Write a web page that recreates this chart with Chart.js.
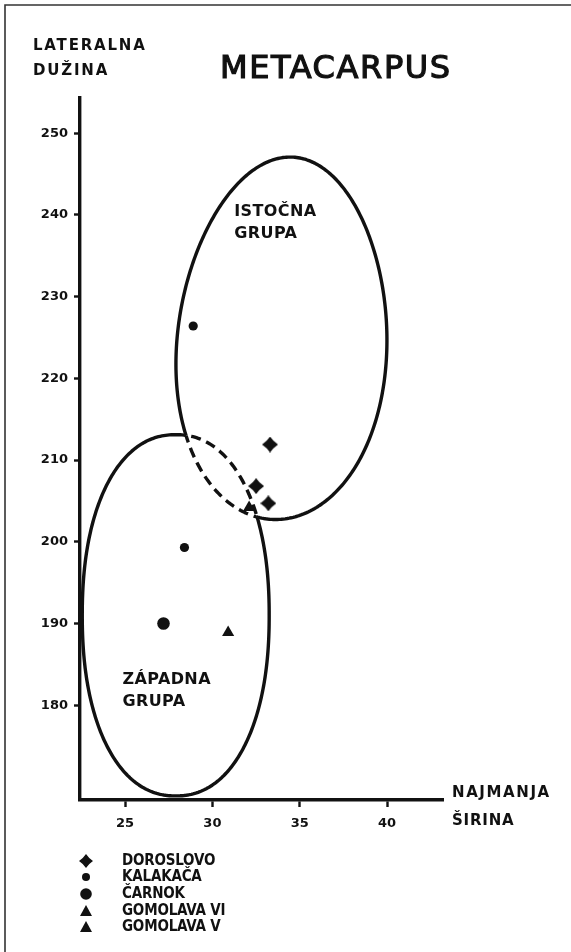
<!DOCTYPE html>
<html lang="sr">
  <head>
    <meta charset="UTF-8" />
    <title>Metacarpus</title>
    <script src="https://cdn.jsdelivr.net/npm/chart.js"></script>
    <style>
      body {
        margin: 0;
        background: #fff;
      }
      #wrap {
        width: 571px;
        height: 952px;
      }
    </style>
  </head>
  <body>
    <div id="wrap"><canvas id="plot" width="571" height="952"></canvas></div>

    <script>
      // najmanja širina (x) / lateralna dužina (y), mm
      const siteNames = ["DOROSLOVO", "KALAKAČA", "ČARNOK", "GOMOLAVA VI", "GOMOLAVA V"];
      const doroslovoX = [33.3, 32.5, 33.2];
      const doroslovoY = [211.9, 206.8, 204.7];
      const kalakacaX = [28.9, 28.4];
      const kalakacaY = [226.4, 199.3];
      const carnokX = [27.2];
      const carnokY = [190.0];
      const gomolava6X = [32.1];
      const gomolava6Y = [204.2];
      const gomolava5X = [30.9];
      const gomolava5Y = [188.9];

      const xTicks = [25, 30, 35, 40];
      const yTicks = [180, 190, 200, 210, 220, 230, 240, 250];

      // group outlines (east, west): centre and half axes in mm
      const groupNames = [["ISTOČNA", "GRUPA"], ["ZÁPADNA", "GRUPA"]];
      const groupCentreX = [34.0, 27.9];
      const groupCentreY = [224.9, 191.0];
      const groupHalfX = [6.0, 5.35];
      const groupHalfY = [22.2, 22.1];
      // shape of each hand-drawn outline: tilt (rad), squareness, widening towards the bottom
      const groupTilt = [0.06, 0];
      const groupSquare = [2.0, 2.2];
      const groupEgg = [0.08, 0.0];

      const INK = "#111";
      const LETTERS = '"DejaVu Sans", sans-serif';
      const NARROW = '"DejaVu Sans Condensed", "DejaVu Sans", sans-serif';

      const pts = (xs, ys) => xs.map((x, i) => ({ x: x, y: ys[i] }));

      // four-pointed star used for Doroslovo
      function starMarker(size) {
        const c = document.createElement("canvas");
        c.width = c.height = size;
        const g = c.getContext("2d");
        const m = size / 2;
        const k = size * 0.2;
        g.fillStyle = INK;
        g.beginPath();
        g.moveTo(m, 0);
        g.quadraticCurveTo(m + k, m - k, size, m);
        g.quadraticCurveTo(m + k, m + k, m, size);
        g.quadraticCurveTo(m - k, m + k, 0, m);
        g.quadraticCurveTo(m - k, m - k, m, 0);
        g.fill();
        return c;
      }
      const star = starMarker(16);
      const starSmall = starMarker(14);

      function traceOutline(ctx, chart, i) {
        const xs = chart.scales.x;
        const ys = chart.scales.y;
        const cx = xs.getPixelForValue(groupCentreX[i]);
        const cy = ys.getPixelForValue(groupCentreY[i]);
        const rx = xs.getPixelForValue(groupCentreX[i] + groupHalfX[i]) - cx;
        const ry = cy - ys.getPixelForValue(groupCentreY[i] + groupHalfY[i]);
        const tc = Math.cos(groupTilt[i]);
        const ts = Math.sin(groupTilt[i]);
        const p = 2 / groupSquare[i];
        const steps = 360;
        for (let s = 0; s <= steps; s++) {
          const a = (s / steps) * Math.PI * 2;
          const c = Math.cos(a);
          const sn = Math.sin(a);
          const v = Math.sign(sn) * Math.pow(Math.abs(sn), p);
          const u = Math.sign(c) * Math.pow(Math.abs(c), p) * (1 + groupEgg[i] * v);
          const dx = u * rx;
          const dy = v * ry;
          const X = cx + dx * tc - dy * ts;
          const Y = cy + dx * ts + dy * tc;
          if (s === 0) ctx.moveTo(X, Y);
          else ctx.lineTo(X, Y);
        }
        ctx.closePath();
      }

      // solid outlines, dashed where one group overlaps the other
      const groupOutlines = {
        id: "groupOutlines",
        beforeDatasetsDraw(chart) {
          const ctx = chart.ctx;
          ctx.save();
          ctx.strokeStyle = INK;
          ctx.lineWidth = 3.4;
          ctx.lineJoin = "round";
          for (let i = 0; i < 2; i++) {
            const other = 1 - i;
            ctx.save();
            ctx.beginPath();
            ctx.rect(0, 0, chart.width, chart.height);
            traceOutline(ctx, chart, other);
            ctx.clip("evenodd");
            ctx.beginPath();
            traceOutline(ctx, chart, i);
            ctx.stroke();
            ctx.restore();

            ctx.save();
            ctx.beginPath();
            traceOutline(ctx, chart, other);
            ctx.clip();
            ctx.beginPath();
            traceOutline(ctx, chart, i);
            ctx.setLineDash([10, 6]);
            ctx.stroke();
            ctx.restore();
          }
          ctx.restore();
        },
      };

      function text(ctx, str, x, y, font, spacing) {
        ctx.font = font;
        ctx.letterSpacing = (spacing || 0) + "px";
        ctx.fillText(str, x, y);
      }

      // frame, title, axis names, group names and key
      const annotations = {
        id: "annotations",
        afterDraw(chart) {
          const ctx = chart.ctx;
          const xs = chart.scales.x;
          const ys = chart.scales.y;
          ctx.save();
          ctx.strokeStyle = "#333";
          ctx.lineWidth = 1.6;
          ctx.beginPath();
          ctx.moveTo(5, chart.height);
          ctx.lineTo(5, 5);
          ctx.lineTo(chart.width, 5);
          ctx.stroke();

          ctx.fillStyle = INK;
          ctx.textBaseline = "middle";
          ctx.textAlign = "left";
          ctx.strokeStyle = INK;
          ctx.lineWidth = 1.2;
          ctx.font = "32px " + LETTERS;
          ctx.letterSpacing = "1.6px";
          ctx.fillText("METACARPUS", 220, 70);
          ctx.strokeText("METACARPUS", 220, 70);

          text(ctx, "LATERALNA", 33, 46, "bold 15px " + LETTERS, 1.8);
          text(ctx, "DUŽINA", 33, 71, "bold 15px " + LETTERS, 1.8);
          text(ctx, "NAJMANJA", 452, 793, "bold 15px " + LETTERS, 1.6);
          text(ctx, "ŠIRINA", 452, 821, "bold 15px " + LETTERS, 0.8);

          const labelAt = [[31.25, 240.4], [24.85, 183.1]];
          groupNames.forEach((lines, i) => {
            const px = xs.getPixelForValue(labelAt[i][0]);
            const py = ys.getPixelForValue(labelAt[i][1]);
            text(ctx, lines[0], px, py, "bold 16px " + LETTERS, 0.4);
            text(ctx, lines[1], px, py + 22, "bold 16px " + LETTERS, 0.4);
          });

          // key
          const keyY = [861, 877, 894, 911, 927];
          const mx = 86;
          siteNames.forEach((name, i) => {
            const y = keyY[i];
            ctx.beginPath();
            if (i === 0) {
              ctx.drawImage(starSmall, mx - 7, y - 7);
            } else if (i === 1) {
              ctx.arc(mx, y, 4, 0, Math.PI * 2);
              ctx.fill();
            } else if (i === 2) {
              ctx.arc(mx, y, 5.8, 0, Math.PI * 2);
              ctx.fill();
            } else {
              ctx.moveTo(mx, y - 6);
              ctx.lineTo(mx + 6, y + 5);
              ctx.lineTo(mx - 6, y + 5);
              ctx.closePath();
              ctx.fill();
            }
            text(ctx, name, 122, y, "bold 15px " + NARROW, -0.2);
          });
          ctx.restore();
        },
      };

      const tickFont = { family: LETTERS, weight: "bold", size: 13 };

      new Chart(document.getElementById("plot"), {
        type: "scatter",
        data: {
          datasets: [
            { label: siteNames[0], data: pts(doroslovoX, doroslovoY), pointStyle: star },
            { label: siteNames[1], data: pts(kalakacaX, kalakacaY), pointStyle: "circle", pointRadius: 4.6 },
            { label: siteNames[2], data: pts(carnokX, carnokY), pointStyle: "circle", pointRadius: 6.3 },
            { label: siteNames[3], data: pts(gomolava6X, gomolava6Y), pointStyle: "triangle", pointRadius: 7 },
            { label: siteNames[4], data: pts(gomolava5X, gomolava5Y), pointStyle: "triangle", pointRadius: 7 },
          ].map((d) => Object.assign({ backgroundColor: INK, borderColor: INK, borderWidth: 0, clip: false }, d)),
        },
        options: {
          responsive: false,
          animation: false,
          events: [],
          layout: { padding: { top: 98, right: 128, left: 0, bottom: 0 } },
          plugins: { legend: { display: false }, tooltip: { enabled: false } },
          scales: {
            x: {
              type: "linear",
              min: 22.42,
              max: 43.2,
              afterBuildTicks: (s) => {
                s.ticks = xTicks.map((v) => ({ value: v }));
              },
              afterFit: (s) => {
                s.height = 152;
              },
              border: { color: INK, width: 3.4 },
              grid: { drawOnChartArea: false, tickLength: 7, tickWidth: 2.4, color: INK },
              ticks: { color: INK, font: tickFont, padding: 9, maxRotation: 0, autoSkip: false },
            },
            y: {
              type: "linear",
              min: 168.4,
              max: 254.3,
              afterBuildTicks: (s) => {
                s.ticks = yTicks.map((v) => ({ value: v }));
              },
              afterFit: (s) => {
                s.width = 80;
              },
              border: { color: INK, width: 3.4 },
              grid: { drawOnChartArea: false, tickLength: 6, tickWidth: 2.4, color: INK },
              ticks: { color: INK, font: tickFont, padding: 6, autoSkip: false },
            },
          },
        },
        plugins: [groupOutlines, annotations],
      });
    </script>
  </body>
</html>
